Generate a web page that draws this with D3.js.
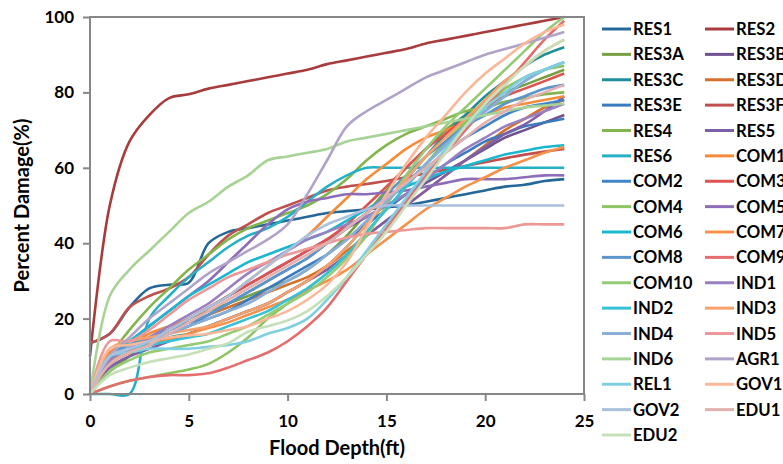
<!DOCTYPE html>
<html>
<head>
<meta charset="utf-8">
<script src="https://cdnjs.cloudflare.com/ajax/libs/d3/7.8.5/d3.min.js"></script>
<style>
    body { margin: 0; background: #fff; }
    svg text { font-family: "Lato", "Open Sans", sans-serif; font-weight: bold; fill: #000; }
</style>
</head>
<body>
<div id="chart"></div>
<script>
// flood depth (ft) at which every curve is given
const depths = [0,1,2,3,4,5,6,7,8,9,10,11,12,13,14,15,16,17,18,19,20,21,22,23,24];

const xTicks = [0, 5, 10, 15, 20, 25];
const yTicks = [0, 20, 40, 60, 80, 100];

const names = ["RES1","RES2","RES3A","RES3B","RES3C","RES3D","RES3E","RES3F","RES4","RES5","RES6",
    "COM1","COM2","COM3","COM4","COM5","COM6","COM7","COM8","COM9","COM10",
    "IND1","IND2","IND3","IND4","IND5","IND6","AGR1","REL1","GOV1","GOV2","EDU1","EDU2"];

// percent damage per occupancy
const RES1  = [13.5,16,23,28,29, 29.5,40,43,44,45, 46,47,48,48.5,49, 49.5,50,51,52,53, 54,55,55.5,56.5,57];
const RES2  = [10,50,67,74,78.5, 79.5,81,82,83,84, 85,86,87.5,88.5,89.5, 90.5,91.5,93,94,95, 96,97,98,99,100];
const RES3A = [0,6,10,14,17, 20,22,24,26,28, 30,33,37,42,48, 54,60,65,70,74, 77,80,82,84,86];
const RES3B = [0,9,12,15,17, 20,23,26,29,32, 35,38,41,44,47, 50,53,56,59,62, 65,68,70,72,74];
const RES3C = [0,8,11,13,15, 16,18,20,22,24, 27,30,34,39,45, 51,57,63,69,74, 79,83,87,90,92];
const RES3D = [0,9,12,15,17, 19,21,23,25,27, 29,31,34,38,42, 46,50,54,58,62, 66,70,73,76,78];
const RES3E = [0,9,12,14,16, 18,20,22,25,28, 31,34,37,41,45, 49,53,57,61,64, 67,69,71,72,73];
const RES3F = [13.5,16,23,26,28, 31,37,42,45,48, 50,52,54,55,55.7, 56.5,57.5,58.5,59.5,60.5, 61.5,62.5,63.5,64.3,65];
const RES4  = [0,10,17,23,28, 33,37,41,44,46, 48,50,53,57,62, 66,69,71,73,75, 76,77.5,78.5,79.5,80];
const RES5  = [0,7,10,12,14, 16,18,20,22,24, 27,30,33,37,42, 46,50,54,58,62, 65.5,69,71.5,75,79];
const RES6  = [0,0,0,20,26, 31,35,39,42,44, 47,51,55,58,60, 60,60,60,60,60, 60,60,60,60,60];
const COM1  = [0,11,13,16,18, 20,23,26,30,34, 38,42,47,52,57, 61,65,68,70,72, 74,76,77,78,79];
const COM2  = [0,9,12,14,16, 18,21,24,27,30, 33,36,40,44,48, 52,56,60,64,68, 71,74,76,77,78];
const COM3  = [0,8,11,14,17, 20,23,26,29,32, 35,38,41,45,50, 55,60,65,69,73, 76,79,81,83,85];
const COM4  = [0,2,3.5,4.5,5.5, 6.5,8,11,15,20, 24,28,32,37,43, 49,55,61,67,72, 77,81,84,86,87];
const COM5  = [0,10,14,18,22, 26,30,35,40,45, 49,51,52,53,53, 53.5,54,55,56,57, 57,57,57.5,58,58];
const COM6  = [0,10,14,18,22, 26,29,32,35,37, 39,41,43,46,49, 52,55,57,59,60.5, 62,63.5,64.5,65.5,66];
const COM7  = [0,8,11,13,14.5, 16,17.5,19,21,23, 25,27.5,30,33,37, 41,45,49,52,55, 57.5,60,62,64,65.5];
const COM8  = [0,10,13,15,17, 19,21,24,27,30, 33,36,40,44,48, 53,58,63,67,71, 74,77,79,81,82];
const COM9  = [0,2,3.5,4.5,5, 5,5.5,7,9,11, 14,18,23,30,37, 44,51,58,64,70, 76,82,88,94,99];
const COM10 = [0,6,9,11,12, 13,14,16,18,21, 24,27,31,36,42, 50,58,65,71,76, 81,86,91,96,100];
const IND1  = [0,9,12,15,18, 21,24,28,32,35, 38,41,43,45,47, 50,53,57,61,65, 68,71,73,75,77];
const IND2  = [0,10,12,13,14, 15,16,18,20,22, 25,28,32,37,43, 49,55,61,66,71, 75,79,83,86,88];
const IND3  = [0,12,14,15,16, 17,18,20,22,24, 27,30,34,39,45, 51,57,63,68,73, 78,83,87,91,94];
const IND4  = [0,10,12,14,16, 18,20,22,24,27, 30,33,37,41,46, 51,56,61,66,71, 75,79,83,86,88];
const IND5  = [0,14,14,17,21, 25,28,31,33,35, 37,38.5,40,41.5,42.5, 43,43.5,44,44,44, 44,44,45,45,45];
const IND6  = [0,26,33,38,43, 48,51,55,58,62, 63,64,65,67,68, 69,70,71,72,73, 74,75,76,76.5,77];
const AGR1  = [0,10,15,20,24, 28,32,35,38,41, 45,53,62,71,75, 78,81,84,86,88, 90,91.5,93,94.5,96];
const REL1  = [0,10,11,12,12, 12,12.5,13,14,16, 17.5,20,25,31,38, 45,52,59,65,71, 76,80,84,86,88];
const GOV1  = [0,12,13,14,15, 15.5,16,17,18,20, 22,25,29,35,44, 53,61,68,74,80, 85,89,93,96,98];
const GOV2  = [0,10,12,14,17, 20,23,26,30,34, 38,42,45,47,49, 50,50,50,50,50, 50,50,50,50,50];
const EDU1  = [0,8,11,13,16, 19,22,25,28,31, 34,37,40,44,48, 52,56,60,64,68, 72,75,78,80,82];
const EDU2  = [0,5,7,8.5,9.5, 10.5,12,13.5,16.5,18, 19.5,22,26,31,37, 43,50,57,64,71, 77,82,87,91,94];

const values = [RES1,RES2,RES3A,RES3B,RES3C,RES3D,RES3E,RES3F,RES4,RES5,RES6,
    COM1,COM2,COM3,COM4,COM5,COM6,COM7,COM8,COM9,COM10,
    IND1,IND2,IND3,IND4,IND5,IND6,AGR1,REL1,GOV1,GOV2,EDU1,EDU2];

const palette = ["#24689a","#a83c3c","#77a043","#6f5291","#1f8d9a","#d7702a","#3a7bbf","#c0504d","#83b54d","#7e5fa8","#25b0c6",
    "#f68b3a","#4185c9","#dd5450","#8cc461","#8d6db7","#1ab7cf","#f7914a","#5b95cc","#e46d6d","#95cb74",
    "#9a80c0","#35c1d6","#f9a16a","#8aaed6","#eb9896","#a7d395","#b1a3c8","#80cfe0","#fbb899","#a9c1dd","#e3b0b0","#c5e0b8"];

const series = names.map(function(n, i){
    return { name: n, points: depths.map(function(d, j){ return { depth: d, value: values[i][j] }; }) };
});

const W = 783, H = 464;
const plot = { left: 90, right: 584, top: 17, bottom: 394 };

const svg = d3.select("#chart")
    .append("svg")
    .attr("width", W)
    .attr("height", H);

const xScale = d3.scaleLinear().domain([0, 25]).range([plot.left, plot.right]);
const yScale = d3.scaleLinear().domain([0, 100]).range([plot.bottom, plot.top]);
const color = d3.scaleOrdinal().domain(names).range(palette);

// damage curves
const line = d3.line()
    .x(function(d){ return xScale(d.depth); })
    .y(function(d){ return yScale(d.value); })
    .curve(d3.curveCatmullRom);

svg.append("g")
    .selectAll("path")
    .data(series)
    .enter().append("path")
    .attr("d", function(d){ return line(d.points); })
    .attr("fill", "none")
    .attr("stroke", function(d){ return color(d.name); })
    .attr("stroke-width", 2.6)
    .attr("stroke-linejoin", "round");

// frame of the plot area, over the curves
svg.append("rect")
    .attr("x", plot.left)
    .attr("y", plot.top)
    .attr("width", plot.right - plot.left)
    .attr("height", plot.bottom - plot.top)
    .attr("fill", "none")
    .attr("stroke", "#878787")
    .attr("stroke-width", 2);

const yAxis = svg.append("g")
    .attr("transform", "translate(" + plot.left + ",0)")
    .call(d3.axisLeft(yScale).tickValues(yTicks).tickSize(7).tickSizeOuter(0).tickPadding(9));

const xAxis = svg.append("g")
    .attr("transform", "translate(0," + plot.bottom + ")")
    .call(d3.axisBottom(xScale).tickValues(xTicks).tickSize(7).tickSizeOuter(0).tickPadding(14));

[xAxis, yAxis].forEach(function(g){
    g.select(".domain").remove();
    g.selectAll(".tick line").attr("stroke", "#878787").attr("stroke-width", 2);
    g.selectAll(".tick text").style("font-size", "17px").attr("fill", "#000");
});

// axis titles
svg.append("text")
    .attr("x", (plot.left + plot.right) / 2)
    .attr("y", 455)
    .attr("text-anchor", "middle")
    .style("font-size", "20px")
    .text("Flood Depth(ft)");

svg.append("text")
    .attr("transform", "translate(29," + (plot.top + plot.bottom) / 2 + ") rotate(-90)")
    .attr("text-anchor", "middle")
    .style("font-size", "20px")
    .text("Percent Damage(%)");

// legend, two columns (the right column runs off the page, as in the original)
const legend = svg.append("g").attr("class", "legend");

const item = legend.selectAll("g")
    .data(series)
    .enter().append("g")
    .attr("transform", function(d, i){
        return "translate(" + (i % 2 === 0 ? 602 : 705) + "," + (29 + Math.floor(i / 2) * 25.375) + ")";
    });

item.append("line")
    .attr("x1", 0)
    .attr("x2", 29)
    .attr("stroke", function(d){ return color(d.name); })
    .attr("stroke-width", 3);

item.append("text")
    .attr("x", 31)
    .attr("dy", "0.36em")
    .style("font-size", "16.7px")
    .text(function(d){ return d.name; });
</script>
</body>
</html>
